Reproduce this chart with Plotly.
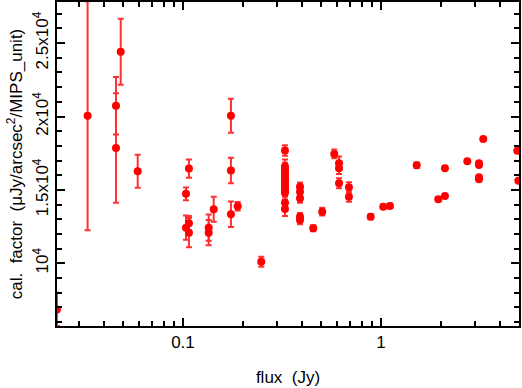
import plotly.graph_objects as go

flux = [0.0231, 0.0330, 0.0459, 0.0459, 0.0485, 0.0591,
        0.1036, 0.1036, 0.1072, 0.1072, 0.1072, 0.1349, 0.1349, 0.143,
        0.1747, 0.1747, 0.1747, 0.189, 0.2486,
        0.3275, 0.3275, 0.3275, 0.3275, 0.3275, 0.3275, 0.3275, 0.3275, 0.3275,
        0.3275, 0.3275, 0.3275, 0.3275, 0.3275,
        0.390, 0.390, 0.390, 0.390, 0.390,
        0.455, 0.505, 0.581, 0.614, 0.614, 0.614, 0.689, 0.689,
        0.887, 1.027, 1.110, 1.515, 1.947, 2.104, 2.104, 2.729,
        3.125, 3.125, 3.125, 3.125, 3.284, 4.88, 4.94]
factor = [6860, 20050, 20730, 17860, 24410, 16270,
          14730, 12430, 16450, 12730, 12090, 12430, 12090, 13680,
          20050, 16320, 13340, 13890, 10110,
          17680, 16590, 16400, 16200, 16030, 15850, 15680, 15500, 15330,
          15150, 14980, 14800, 14130, 13700,
          15220, 14880, 14430, 13180, 12950,
          12390, 13520, 17450, 16820, 16480, 15460, 15180, 14540,
          13180, 13860, 13910, 16680, 14370, 14590, 16480, 16960,
          16820, 16700, 15870, 15730, 18460, 17660, 15630]
err = [1130, 7800, 1960, 3730, 2250, 1120,
       430, 820, 620, 500, 1000, 900, 860, 850,
       1160, 870, 870, 290, 340,
       360, 480, 450, 450, 450, 450, 450, 450, 450,
       450, 450, 450, 450, 480,
       280, 280, 300, 240, 290,
       200, 270, 300, 450, 400, 340, 350, 350,
       180, 150, 150, 180, 150, 0, 0, 0,
       0, 0, 0, 0, 0, 0, 0]

x_major = [0.1, 1]
x_major_text = ["0.1", "1"]
x_minor = [0.03, 0.04, 0.05, 0.06, 0.07, 0.08, 0.09,
           0.2, 0.3, 0.4, 0.5, 0.6, 0.7, 0.8, 0.9, 2, 3, 4, 5]
y_major = [10000, 15000, 20000, 25000]
y_major_text = ["10<sup>4</sup>", "1.5x10<sup>4</sup>", "2x10<sup>4</sup>", "2.5x10<sup>4</sup>"]
y_minor = list(range(6000, 28000, 1000))

fig = go.Figure()
fig.add_trace(go.Scatter(
    x=flux, y=factor, mode="markers",
    marker=dict(color="#ff0000", size=8, line=dict(width=0)),
    error_y=dict(type="data", array=err, visible=True,
                 color="#ff3030", thickness=2, width=3),
    showlegend=False,
))

tick_font = dict(family="Liberation Sans, Arial, sans-serif", size=17, color="black")
title_font = dict(family="Liberation Sans, Arial, sans-serif", size=17, color="black")
fig.update_layout(
    width=522, height=388,
    margin=dict(l=57, r=3, t=2, b=62, autoexpand=False),
    paper_bgcolor="white", plot_bgcolor="white",
    font=tick_font,
    xaxis=dict(
        type="log", range=[-1.636, 0.697], automargin=False,
        tickmode="array", tickvals=x_major, ticktext=x_major_text,
        ticks="inside", ticklen=8, tickwidth=1.5, tickcolor="black",
        tickfont=tick_font,
        minor=dict(tickmode="array", tickvals=x_minor, ticks="inside",
                   ticklen=5, tickwidth=1.5, tickcolor="black", showgrid=False),
        showline=True, linecolor="black", linewidth=2, mirror="ticks",
        showgrid=False, zeroline=False,
        title=dict(text="flux  (Jy)", standoff=20, font=title_font),
    ),
    yaxis=dict(
        range=[5730, 27800], automargin=False,
        tickmode="array", tickvals=y_major, ticktext=y_major_text,
        tickangle=-90, tickfont=tick_font,
        ticks="inside", ticklen=8, tickwidth=1.5, tickcolor="black",
        minor=dict(tickmode="array", tickvals=y_minor, ticks="inside",
                   ticklen=5, tickwidth=1.5, tickcolor="black", showgrid=False),
        showline=True, linecolor="black", linewidth=2, mirror="ticks",
        showgrid=False, zeroline=False,
        title=dict(text="cal.  factor  (μJy/arcsec<sup>2</sup>/MIPS_unit)", standoff=3, font=title_font),
    ),
)

fig.write_html("out.html", config={"displayModeBar": False},
               post_script="document.body.style.margin='0';")
